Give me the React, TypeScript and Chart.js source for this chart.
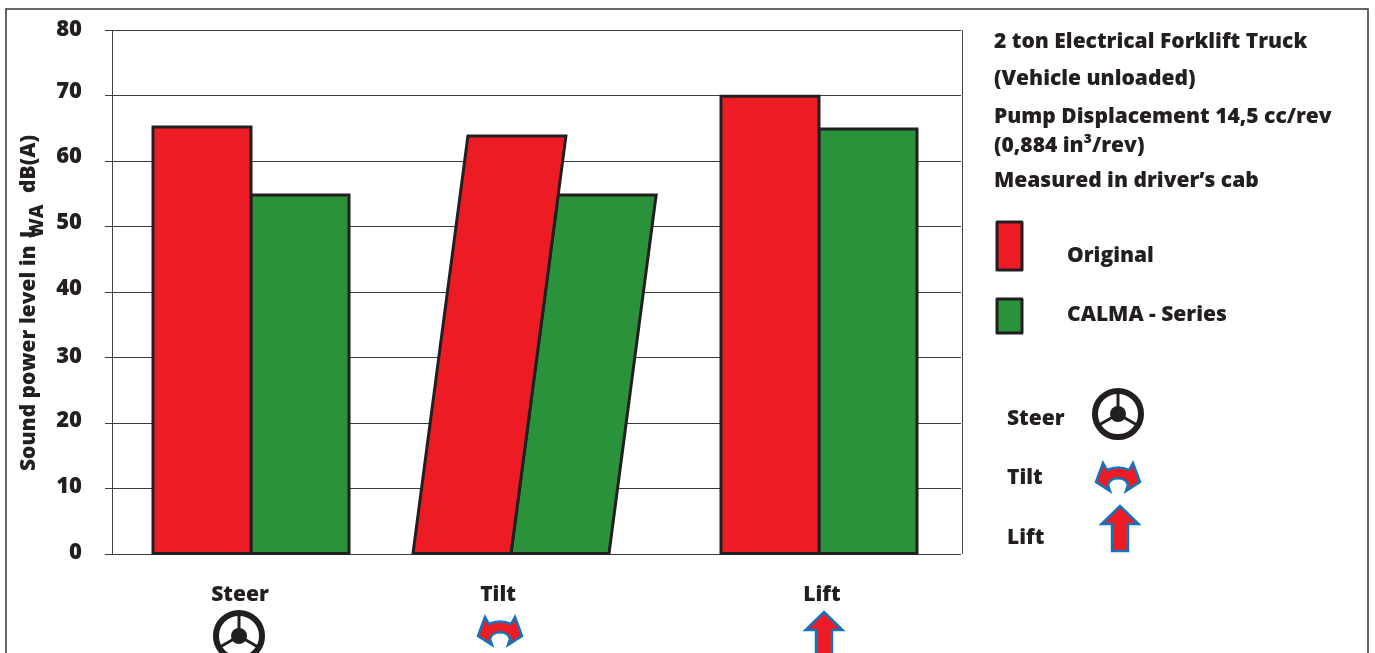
import React, { useEffect, useRef } from "react";
import { Chart, registerables } from "chart.js";

Chart.register(...registerables);

const categories = ["Steer", "Tilt", "Lift"];
const originalValues = [65.2, 63.8, 69.9];
const calmaValues = [54.8, 54.8, 64.9];
const seriesNames = ["Original", "CALMA - Series"];
const yTicks = [0, 10, 20, 30, 40, 50, 60, 70, 80];
const infoLines = [
  "2 ton Electrical Forklift Truck",
  "(Vehicle unloaded)",
  "Pump Displacement 14,5 cc/rev",
  "(0,884 in³/rev)",
  "Measured in driver’s cab",
];

const FONT = '"Open Sans", sans-serif';
const INK = "#231F20";
const RED = "#ED1C24";
const GREEN = "#2A923B";
const BLUE = "#0F75BC";

const bold = (px: number) => `800 ${px}px ${FONT}`;

// tick-label nudges in the original artwork
const labelNudge: Record<string, number> = { "80": 0, "70": -4, "60": -4, "50": -4, "40": -3, "30": -1, "20": -2, "10": -2, "0": -1 };

function wheel(ctx: any, cx: number, cy: number) {
  ctx.save();
  ctx.strokeStyle = INK;
  ctx.fillStyle = INK;
  ctx.lineWidth = 6;
  ctx.beginPath();
  ctx.arc(cx, cy, 23, 0, Math.PI * 2);
  ctx.stroke();
  ctx.lineWidth = 3;
  [-90, 30, 150].forEach((deg) => {
    const r = (deg * Math.PI) / 180;
    ctx.beginPath();
    ctx.moveTo(cx, cy);
    ctx.lineTo(cx + 23 * Math.cos(r), cy + 23 * Math.sin(r));
    ctx.stroke();
  });
  ctx.beginPath();
  ctx.arc(cx, cy, 8, 0, Math.PI * 2);
  ctx.fill();
  ctx.restore();
}

function tiltIcon(ctx: any, cx: number, top: number) {
  ctx.save();
  ctx.translate(cx, top);
  ctx.fillStyle = RED;
  ctx.strokeStyle = BLUE;
  ctx.lineWidth = 2.5;
  ctx.lineJoin = "miter";
  ctx.beginPath();
  ctx.moveTo(-15, 3);
  ctx.lineTo(-11, 10);
  ctx.quadraticCurveTo(0, 5, 11, 10);
  ctx.lineTo(15, 3);
  ctx.lineTo(22, 22);
  ctx.lineTo(8, 31);
  ctx.lineTo(10, 25);
  ctx.bezierCurveTo(8, 16, -8, 16, -10, 25);
  ctx.lineTo(-8, 31);
  ctx.lineTo(-22, 22);
  ctx.closePath();
  ctx.fill();
  ctx.stroke();
  ctx.restore();
}

function liftIcon(ctx: any, cx: number, top: number) {
  ctx.save();
  ctx.translate(cx, top);
  ctx.fillStyle = RED;
  ctx.strokeStyle = BLUE;
  ctx.lineWidth = 2.5;
  ctx.beginPath();
  ctx.moveTo(0, 1);
  ctx.lineTo(18.5, 19);
  ctx.lineTo(8, 19);
  ctx.lineTo(8, 46);
  ctx.lineTo(-8, 46);
  ctx.lineTo(-8, 19);
  ctx.lineTo(-18.5, 19);
  ctx.closePath();
  ctx.fill();
  ctx.stroke();
  ctx.restore();
}

const PLOT_TOP = 30;

const artworkPlugin = {
  id: "artwork",
  afterLayout(chart: any) {
    const s = chart.scales.y;
    const bottom = s.bottom;
    s.top = PLOT_TOP;
    s.height = bottom - PLOT_TOP;
    s.configure();
    chart.chartArea.top = PLOT_TOP;
    chart.chartArea.height = bottom - PLOT_TOP;
  },
  beforeDraw(chart: any) {
    const ctx = chart.ctx;
    const yScale = chart.scales.y;
    if (!chart.$nudged) {
      chart.$nudged = true;
      yScale.getLabelItems().forEach((item: any) => {
        const dy = labelNudge[String(item.label)] ?? 0;
        item.options.translation = [item.options.translation[0], item.options.translation[1] + dy];
      });
    }
    ctx.save();
    ctx.fillStyle = "#fff";
    ctx.fillRect(0, 0, chart.width, chart.height);
    ctx.strokeStyle = "#333";
    ctx.lineWidth = 1.5;
    ctx.beginPath();
    ctx.moveTo(6, 653);
    ctx.lineTo(6, 9);
    ctx.lineTo(1368, 9);
    ctx.lineTo(1368, 653);
    ctx.stroke();
    ctx.restore();
  },
  beforeDatasetsDraw(chart: any) {
    const ctx = chart.ctx;
    const { top, bottom } = chart.chartArea;
    // plot frame
    ctx.save();
    ctx.strokeStyle = "#444";
    ctx.lineWidth = 1;
    ctx.beginPath();
    ctx.moveTo(112.5, top);
    ctx.lineTo(112.5, bottom);
    ctx.moveTo(962.5, top);
    ctx.lineTo(962.5, bottom);
    ctx.stroke();
    ctx.restore();

    // bars: centred outline, the Tilt pair leaning to the right as in the artwork
    chart.data.datasets.forEach((_: any, di: number) => {
      chart.getDatasetMeta(di).data.forEach((el: any, i: number) => {
        el.draw = (c: any) => {
          const { x, y, base, width } = el.getProps(["x", "y", "base", "width"]);
          const lean = i === 1 ? 0.1316 : 0;
          const shift = i === 1 ? -24 : 0;
          const l = x - width / 2 + shift;
          const r = x + width / 2 + shift;
          const d = lean * (base - y);
          c.save();
          c.beginPath();
          c.moveTo(l, base);
          c.lineTo(l + d, y);
          c.lineTo(r + d, y);
          c.lineTo(r, base);
          c.closePath();
          c.fillStyle = el.options.backgroundColor;
          c.strokeStyle = el.options.borderColor;
          c.lineWidth = 3;
          c.lineJoin = "miter";
          c.fill();
          c.stroke();
          c.restore();
        };
      });
    });
  },
  afterDraw(chart: any) {
    const ctx = chart.ctx;
    ctx.save();
    ctx.fillStyle = INK;
    ctx.textBaseline = "alphabetic";
    ctx.textAlign = "left";

    // y axis title
    ctx.save();
    ctx.translate(35, 471);
    ctx.rotate(-Math.PI / 2);
    ctx.font = bold(21);
    ctx.fillText("Sound power level in", 0, 0);
    ctx.fillText("L", 233, 0);
    ctx.fillText("dB(A)", 278, 0);
    ctx.font = bold(19);
    ctx.fillText("WA", 233, 8);
    ctx.restore();

    // category captions
    ctx.font = bold(21);
    ctx.textAlign = "center";
    [240, 498, 822].forEach((x, i) => ctx.fillText(categories[i], x, 601));
    ctx.textAlign = "left";

    // info block
    ctx.font = bold(21);
    [48, 85, 123, 152, 187].forEach((y, i) => ctx.fillText(infoLines[i], 994, y));

    // legend
    ctx.lineWidth = 3;
    ctx.lineJoin = "round";
    ctx.strokeStyle = INK;
    ctx.fillStyle = RED;
    ctx.fillRect(997, 222, 25, 48);
    ctx.strokeRect(997, 222, 25, 48);
    ctx.fillStyle = GREEN;
    ctx.fillRect(997, 299, 25, 34);
    ctx.strokeRect(997, 299, 25, 34);
    ctx.fillStyle = INK;
    ctx.fillText(seriesNames[0], 1067, 262);
    ctx.fillText(seriesNames[1], 1067, 321);

    // key of operations
    ctx.fillText(categories[0], 1007, 425);
    ctx.fillText(categories[1], 1007, 484);
    ctx.fillText(categories[2], 1007, 544);
    ctx.restore();

    wheel(ctx, 1118, 414);
    tiltIcon(ctx, 1118, 460);
    liftIcon(ctx, 1120, 505);
    wheel(ctx, 239, 636);
    tiltIcon(ctx, 500, 614);
    liftIcon(ctx, 824, 611);
  },
};

export default function App() {
  const ref = useRef<HTMLCanvasElement>(null);
  useEffect(() => {
    const chart = new Chart(ref.current as HTMLCanvasElement, {
      type: "bar",
      data: {
        labels: categories,
        datasets: [
          { label: seriesNames[0], data: originalValues, backgroundColor: RED, borderColor: INK, borderWidth: 0, clip: false } as any,
          { label: seriesNames[1], data: calmaValues, backgroundColor: GREEN, borderColor: INK, borderWidth: 0, clip: false } as any,
        ],
      },
      options: {
        responsive: false,
        animation: false,
        devicePixelRatio: 1,
        layout: { padding: { left: 0, top: 30, right: 414, bottom: 99 } },
        plugins: { legend: { display: false }, tooltip: { enabled: false } },
        datasets: { bar: { categoryPercentage: 196 / 284, barPercentage: 1 } },
        scales: {
          x: { display: false },
          y: {
            min: 0,
            max: 80,
            afterFit: (s: any) => {
              s.width = 109;
            },
            afterBuildTicks: (s: any) => {
              s.ticks = yTicks.map((value) => ({ value }));
            },
            border: { display: false },
            grid: { color: "#3c3a3b", lineWidth: 1, tickLength: 4, tickColor: "#3c3a3b" },
            ticks: { padding: 23, color: INK, font: { family: FONT, size: 22, weight: 800 } },
          },
        },
      } as any,
      plugins: [artworkPlugin],
    });
    return () => chart.destroy();
  }, []);
  return (
    <div style={{ position: "fixed", left: 0, top: 0, width: 1375, height: 653, overflow: "hidden", background: "#fff" }}>
      <canvas ref={ref} width={1375} height={653} style={{ display: "block" }} />
    </div>
  );
}
